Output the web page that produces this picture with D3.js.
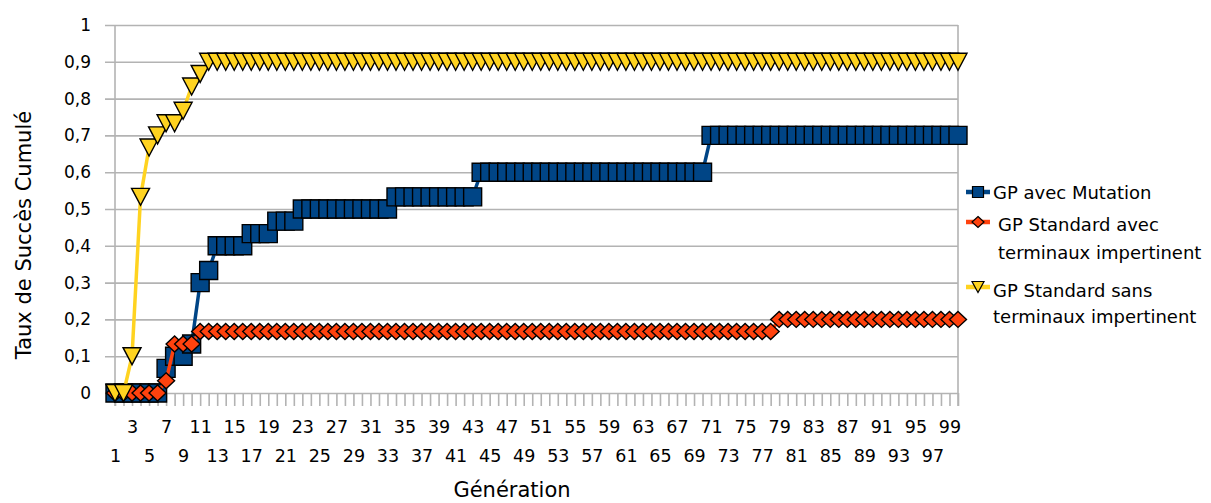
<!DOCTYPE html>
<html>
<head>
<meta charset="utf-8">
<script src="https://cdn.jsdelivr.net/npm/d3@7"></script>
<style>
  body { margin: 0; background: #fff; }
  text { font-family: "DejaVu Sans", sans-serif; fill: #000; }
</style>
</head>
<body>
<div id="chart"></div>
<script>
var svgWidth = 1211;
var svgHeight = 503;

// generations 1..100 (categories)
var generations = d3.range(1, 101);

// y tick values
var yTicks = [0, 0.1, 0.2, 0.3, 0.4, 0.5, 0.6, 0.7, 0.8, 0.9, 1];

// series names
var seriesNames = ["GP avec Mutation", "GP Standard avec terminaux impertinent", "GP Standard sans terminaux impertinent"];

// GP avec Mutation
var mutation = [
    0, 0, 0, 0, 0, 0, 0.067, 0.1, 0.1, 0.133,
    0.3, 0.333, 0.4, 0.4, 0.4, 0.4, 0.433, 0.433, 0.433, 0.467,
    0.467, 0.467, 0.5, 0.5, 0.5, 0.5, 0.5, 0.5, 0.5, 0.5,
    0.5, 0.5, 0.5, 0.533, 0.533, 0.533, 0.533, 0.533, 0.533, 0.533,
    0.533, 0.533, 0.533, 0.6, 0.6, 0.6, 0.6, 0.6, 0.6, 0.6,
    0.6, 0.6, 0.6, 0.6, 0.6, 0.6, 0.6, 0.6, 0.6, 0.6,
    0.6, 0.6, 0.6, 0.6, 0.6, 0.6, 0.6, 0.6, 0.6, 0.6,
    0.7, 0.7, 0.7, 0.7, 0.7, 0.7, 0.7, 0.7, 0.7, 0.7,
    0.7, 0.7, 0.7, 0.7, 0.7, 0.7, 0.7, 0.7, 0.7, 0.7,
    0.7, 0.7, 0.7, 0.7, 0.7, 0.7, 0.7, 0.7, 0.7, 0.7
];

// GP Standard avec terminaux impertinent
var avecTerminaux = [
    0, 0, 0, 0, 0, 0, 0.033, 0.133, 0.133, 0.133,
    0.167, 0.167, 0.167, 0.167, 0.167, 0.167, 0.167, 0.167, 0.167, 0.167,
    0.167, 0.167, 0.167, 0.167, 0.167, 0.167, 0.167, 0.167, 0.167, 0.167,
    0.167, 0.167, 0.167, 0.167, 0.167, 0.167, 0.167, 0.167, 0.167, 0.167,
    0.167, 0.167, 0.167, 0.167, 0.167, 0.167, 0.167, 0.167, 0.167, 0.167,
    0.167, 0.167, 0.167, 0.167, 0.167, 0.167, 0.167, 0.167, 0.167, 0.167,
    0.167, 0.167, 0.167, 0.167, 0.167, 0.167, 0.167, 0.167, 0.167, 0.167,
    0.167, 0.167, 0.167, 0.167, 0.167, 0.167, 0.167, 0.167, 0.2, 0.2,
    0.2, 0.2, 0.2, 0.2, 0.2, 0.2, 0.2, 0.2, 0.2, 0.2,
    0.2, 0.2, 0.2, 0.2, 0.2, 0.2, 0.2, 0.2, 0.2, 0.2
];

// GP Standard sans terminaux impertinent
var sansTerminaux = [
    0, 0, 0.1, 0.533, 0.667, 0.7, 0.733, 0.733, 0.767, 0.833,
    0.867, 0.9, 0.9, 0.9, 0.9, 0.9, 0.9, 0.9, 0.9, 0.9,
    0.9, 0.9, 0.9, 0.9, 0.9, 0.9, 0.9, 0.9, 0.9, 0.9,
    0.9, 0.9, 0.9, 0.9, 0.9, 0.9, 0.9, 0.9, 0.9, 0.9,
    0.9, 0.9, 0.9, 0.9, 0.9, 0.9, 0.9, 0.9, 0.9, 0.9,
    0.9, 0.9, 0.9, 0.9, 0.9, 0.9, 0.9, 0.9, 0.9, 0.9,
    0.9, 0.9, 0.9, 0.9, 0.9, 0.9, 0.9, 0.9, 0.9, 0.9,
    0.9, 0.9, 0.9, 0.9, 0.9, 0.9, 0.9, 0.9, 0.9, 0.9,
    0.9, 0.9, 0.9, 0.9, 0.9, 0.9, 0.9, 0.9, 0.9, 0.9,
    0.9, 0.9, 0.9, 0.9, 0.9, 0.9, 0.9, 0.9, 0.9, 0.9
];

// plot area
var plotLeft = 115, plotRight = 958, plotTop = 25, plotBottom = 393;
var gridColor = "#b3b3b3";

var svg = d3.select("#chart")
    .append("svg")
    .attr("width", svgWidth)
    .attr("height", svgHeight);

var xScale = d3.scalePoint()
    .domain(generations)
    .range([plotLeft, plotRight]);

var yScale = d3.scaleLinear()
    .domain([0, 1])
    .range([plotBottom, plotTop]);

var fmt = function(v) {
    if (v === 0) return "0";
    if (v === 1) return "1";
    return d3.format(".1f")(v).replace(".", ",");
};

// horizontal gridlines
var grid = svg.append("g")
    .attr("transform", `translate(${plotRight}, 0)`)
    .call(d3.axisLeft(yScale).tickValues(yTicks).tickSize(plotRight - plotLeft + 10).tickFormat(""));
grid.select(".domain").remove();
grid.selectAll("line").attr("stroke", gridColor).attr("stroke-width", 1.6);

// y axis labels
var yAxis = svg.append("g")
    .attr("transform", `translate(${plotLeft}, 0)`)
    .call(d3.axisLeft(yScale).tickValues(yTicks).tickSize(0).tickPadding(24).tickFormat(fmt));
yAxis.select(".domain").remove();
yAxis.selectAll("text")
    .style("font-size", "17px")
    .style("font-family", "'DejaVu Sans', sans-serif")
    .attr("fill", "#000");

// x axis: ticks at every generation, labels on odd ones, staggered
var xAxis = svg.append("g")
    .attr("transform", `translate(0, ${plotBottom})`)
    .call(d3.axisBottom(xScale).tickSize(13).tickFormat(d => d % 2 === 1 ? d : ""));
xAxis.select(".domain").remove();
xAxis.selectAll("line").attr("stroke", gridColor).attr("stroke-width", 1.6);
xAxis.selectAll("text")
    .style("font-size", "17.5px")
    .style("font-family", "'DejaVu Sans', sans-serif")
    .attr("fill", "#000")
    .attr("y", d => (d % 4 === 3) ? 28 : 57);

// vertical border lines
svg.selectAll(".vline")
    .data([plotLeft, plotRight])
    .enter().append("line")
    .attr("x1", d => d).attr("x2", d => d)
    .attr("y1", plotTop).attr("y2", plotBottom + 13)
    .attr("stroke", gridColor)
    .attr("stroke-width", 1.6);

// axis titles
svg.append("text")
    .attr("x", 512)
    .attr("y", 497)
    .attr("text-anchor", "middle")
    .style("font-size", "21px")
    .attr("fill", "#222")
    .text("Génération");

svg.append("text")
    .attr("transform", "translate(31, 235) rotate(-90)")
    .attr("text-anchor", "middle")
    .style("font-size", "21px")
    .attr("fill", "#222")
    .text("Taux de Succès Cumulé");

// marker shapes
function squarePath(s) {
    var h = s / 2;
    return `M${-h},${-h}H${h}V${h}H${-h}Z`;
}
function diamondPath(w, hgt) {
    var a = w / 2, b = hgt / 2;
    return `M0,${-b}L${a},0L0,${b}L${-a},0Z`;
}
function trianglePath(w, hgt) {
    var a = w / 2, b = hgt / 2;
    return `M${-a},${-b}L${a},${-b}L0,${b}Z`;
}

var series = [
    { name: seriesNames[0], values: mutation, color: "#004586", shape: squarePath(18), legendShape: squarePath(11) },
    { name: seriesNames[1], values: avecTerminaux, color: "#ff420e", shape: diamondPath(17, 16), legendShape: diamondPath(12, 11) },
    { name: seriesNames[2], values: sansTerminaux, color: "#ffd320", shape: trianglePath(18, 17), legendShape: trianglePath(12, 11) }
];

var line = d3.line()
    .x((d, i) => xScale(generations[i]))
    .y(d => yScale(d));

series.forEach(function(s) {
    var g = svg.append("g");
    g.append("path")
        .attr("d", line(s.values))
        .attr("fill", "none")
        .attr("stroke", s.color)
        .attr("stroke-width", 3.5);
    g.selectAll("path.marker")
        .data(s.values)
        .enter().append("path")
        .attr("class", "marker")
        .attr("d", s.shape)
        .attr("transform", (d, i) => `translate(${xScale(generations[i])}, ${yScale(d)})`)
        .attr("fill", s.color)
        .attr("stroke", "#000")
        .attr("stroke-width", 1.4);
});

// legend
var legendItems = [
    { lines: ["GP avec Mutation"], y: 192, textX: 993, baselines: [199] },
    { lines: ["GP Standard avec", "terminaux impertinent"], y: 222, textX: 998, baselines: [231, 259] },
    { lines: ["GP Standard sans", "terminaux impertinent"], y: 287, textX: 993, baselines: [297, 323] }
];

legendItems.forEach(function(item, i) {
    var s = series[i];
    svg.append("line")
        .attr("x1", 966).attr("x2", 990)
        .attr("y1", item.y).attr("y2", item.y)
        .attr("stroke", s.color)
        .attr("stroke-width", 4.5);
    svg.append("path")
        .attr("d", s.legendShape)
        .attr("transform", `translate(978, ${item.y})`)
        .attr("fill", s.color)
        .attr("stroke", "#000")
        .attr("stroke-width", 1.2);
    item.lines.forEach(function(t, j) {
        svg.append("text")
            .attr("x", item.textX)
            .attr("y", item.baselines[j])
            .style("font-size", "18px")
            .text(t);
    });
});
</script>
</body>
</html>
